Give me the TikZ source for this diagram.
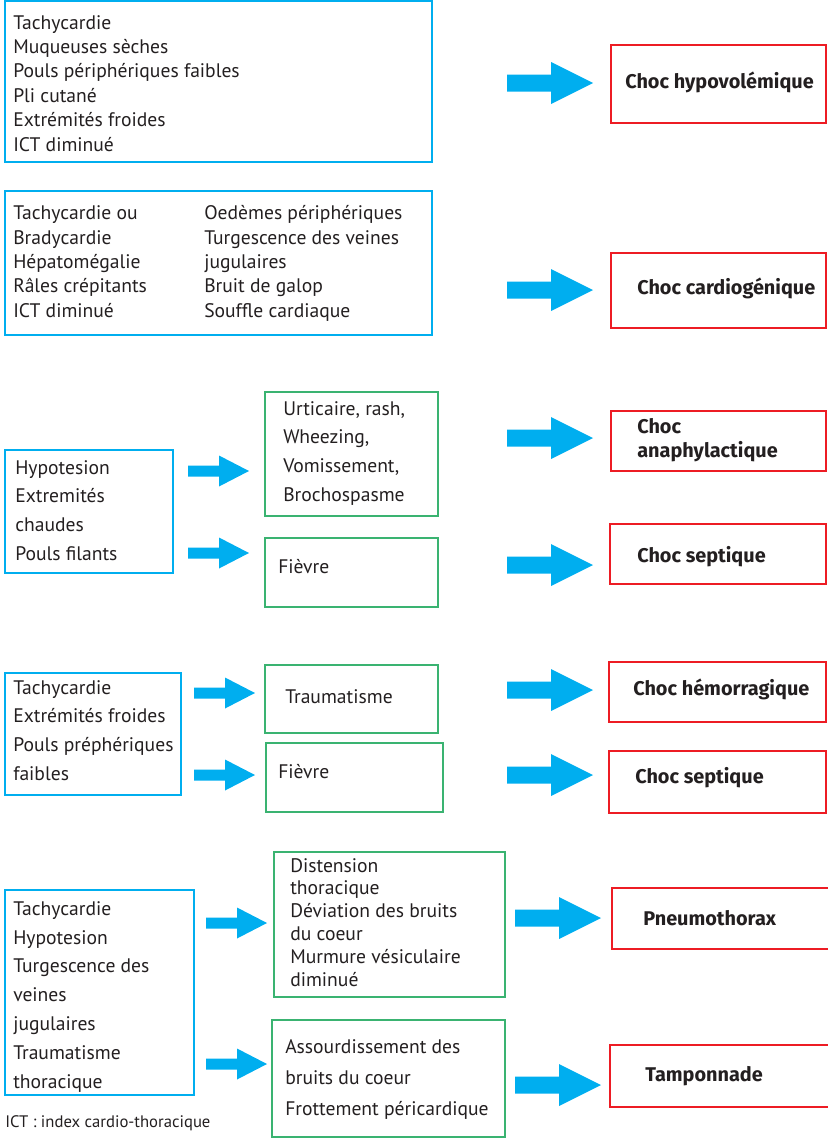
\documentclass[tikz,border=0pt]{standalone}
\usepackage{fontspec}
\setmainfont{PT Sans}
\newfontfamily\labfam{Fira Sans}
\usetikzlibrary{fit}
\definecolor{cblue}{HTML}{00AEEF}
\definecolor{cgreen}{HTML}{3AB371}
\definecolor{cred}{HTML}{ED1C24}
\definecolor{ctext}{HTML}{231F20}
\begin{document}
\begin{tikzpicture}[x=0.75pt,y=-0.75pt,
  box/.style={draw, line width=2.2pt, inner sep=0pt},
  bluebox/.style={box, draw=cblue},
  greenbox/.style={box, draw=cgreen},
  redbox/.style={box, draw=cred},
  body/.style={anchor=base west, inner sep=0pt, align=left, text=ctext, font=\fontsize{14.7pt}{#1}\selectfont},
  body/.default=18pt,
  lab/.style={anchor=base west, inner sep=0pt, align=left, text=ctext, font=\labfam\bfseries\fontsize{14.9pt}{18pt}\selectfont},
  note/.style={anchor=base west, inner sep=0pt, text=ctext, font=\fontsize{12.5pt}{14pt}\selectfont},
  bigarr/.pic={\fill[cblue] (0,-8.5) -- (44,-8.5) -- (44,-21) -- (86,0) -- (44,21) -- (44,8.5) -- (0,8.5) -- cycle;},
  smallarr/.pic={\fill[cblue] (0,-5.5) -- (31,-5.5) -- (31,-15.5) -- (61,0) -- (31,15.5) -- (31,5.5) -- (0,5.5) -- cycle;}
]
\useasboundingbox (0,0) rectangle (828,1139);

% (multi-line text nodes are placed by the baseline of their last line)
% ---- block 1
\node[bluebox, fit={(5,1) (432,162)}] (b1) {};
\node[body=18.3pt] (t1) at (13,151) {Tachycardie\\Muqueuses sèches\\Pouls périphériques faibles\\Pli cutané\\Extrémités froides\\ICT diminué};
\pic at (507,83) {bigarr};
\node[redbox, fit={(611,45) (826,123)}] (r1) {};
\node[lab] (l1) at (625,88) {Choc hypovolémique};

% ---- block 2
\node[bluebox, fit={(5,191) (432,335)}] (b2) {};
\node[body=18.2pt] (t2a) at (13,317) {Tachycardie ou\\Bradycardie\\Hépatomégalie\\Râles crépitants\\ICT diminué};
\node[body=18.2pt] (t2b) at (204,317) {Oedèmes périphériques\\Turgescence des veines\\jugulaires\\Bruit de galop\\Souffle cardiaque};
\pic at (507,290) {bigarr};
\node[redbox, fit={(611,253) (826,328)}] (r2) {};
\node[lab] (l2) at (637,294) {Choc cardiogénique};

% ---- block 3
\node[bluebox, fit={(5,450) (173,573)}] (b3) {};
\node[body=21.5pt] (t3) at (15,560) {Hypotesion\\Extremités\\chaudes\\Pouls filants};
\pic at (188,471) {smallarr};
\pic at (188,553) {smallarr};
\node[greenbox, fit={(265,392) (438,516)}] (g1) {};
\node[body=21.5pt] (u1) at (283,501) {Urticaire, rash,\\Wheezing,\\Vomissement,\\Brochospasme};
\node[greenbox, fit={(265,538) (438,607)}] (g2) {};
\node[body] (u2) at (278,573) {Fièvre};
\pic at (507,438) {bigarr};
\pic at (507,565) {bigarr};
\node[redbox, fit={(611,411) (826,471)}] (r3) {};
\node[lab] (l3) at (637,457) {Choc\\anaphylactique};
\node[redbox, fit={(610,524) (826,584)}] (r4) {};
\node[lab] (l4) at (637,562) {Choc septique};

% ---- block 4
\node[bluebox, fit={(5,673) (181,795)}] (b4) {};
\node[body=21.5pt] (t4) at (13,780) {Tachycardie\\Extrémités froides\\Pouls préphériques\\faibles};
\pic at (194,693) {smallarr};
\pic at (194,775) {smallarr};
\node[greenbox, fit={(265,665) (438,733)}] (g3) {};
\node[body] (u3) at (285,703) {Traumatisme};
\node[greenbox, fit={(266,743) (443,812)}] (g4) {};
\node[body] (u4) at (278,778) {Fièvre};
\pic at (507,690) {bigarr};
\pic at (507,775) {bigarr};
\node[redbox, fit={(609,662) (826,722)}] (r5) {};
\node[lab] (l5) at (633,695) {Choc hémorragique};
\node[redbox, fit={(609,751) (826,813)}] (r6) {};
\node[lab] (l6) at (635,783) {Choc septique};

% ---- block 5
\node[bluebox, fit={(5,890) (194,1095)}] (b5) {};
\node[body=21.6pt] (t5) at (13,1088) {Tachycardie\\Hypotesion\\Turgescence des\\veines\\jugulaires\\Traumatisme\\thoracique};
\pic at (206,923) {smallarr};
\pic at (206,1064) {smallarr};
\node[greenbox, fit={(274,852) (505,997)}] (g5) {};
\node[body=17.1pt] (u5) at (290,986) {Distension\\thoracique\\Déviation des bruits\\du coeur\\Murmure vésiculaire\\diminué};
\node[greenbox, fit={(272,1020) (505,1137)}] (g6) {};
\node[body=23.2pt] (u6) at (285,1115) {Assourdissement des\\bruits du coeur\\Frottement péricardique};
\pic at (515,918) {bigarr};
\pic at (515,1085) {bigarr};
\node[redbox, fit={(612,888) (832,949)}] (r7) {};
\node[lab] (l7) at (643,925) {Pneumothorax};
\node[redbox, fit={(610,1045) (832,1107)}] (r8) {};
\node[lab] (l8) at (645,1081) {Tamponnade};

\node[note] (fn) at (5,1127) {ICT : index cardio-thoracique};
\end{tikzpicture}
\end{document}
